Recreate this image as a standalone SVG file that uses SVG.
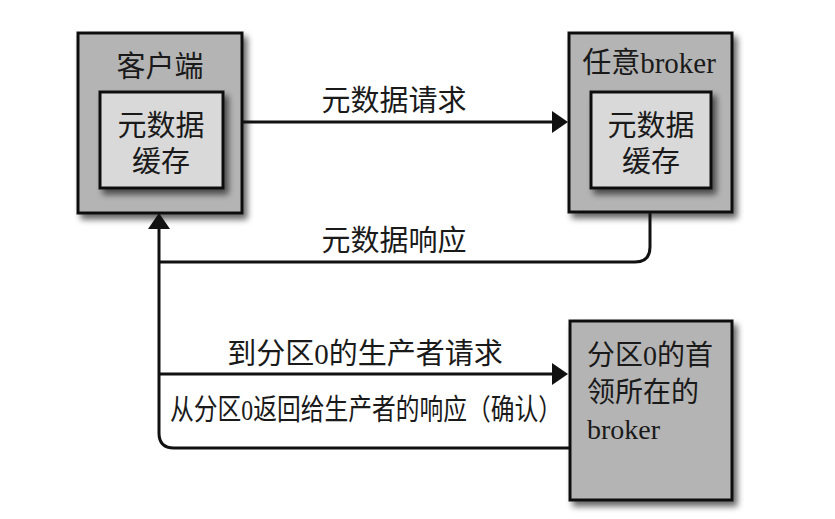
<svg xmlns="http://www.w3.org/2000/svg" width="835" height="519" viewBox="0 0 835 519">
<style>
.outer{fill:#b4b4b4;stroke:#111;stroke-width:3}
.inner{fill:#d9d9d9;stroke:#111;stroke-width:3}
.t{font-family:"Liberation Serif","Noto Sans CJK SC",serif;font-size:29px;fill:#1a1a1a}
.c{text-anchor:middle}
.ln{fill:none;stroke:#111;stroke-width:3}
</style>
<defs>
<filter id="sh" x="-10%" y="-10%" width="130%" height="130%">
<feGaussianBlur in="SourceAlpha" stdDeviation="3"/>
<feOffset dx="4" dy="5" result="b"/>
<feComponentTransfer><feFuncA type="linear" slope="0.6"/></feComponentTransfer>
<feMerge><feMergeNode/><feMergeNode in="SourceGraphic"/></feMerge>
</filter>
<marker id="ah" markerUnits="userSpaceOnUse" markerWidth="16" markerHeight="22" refX="8" refY="11" orient="auto">
<path d="M0,0 L16,11 L0,22 Z" fill="#111"/>
</marker>
</defs>
<rect width="835" height="519" fill="#fff"/>

<g id="client">
<rect class="outer" x="78" y="33" width="164" height="180" filter="url(#sh)"/>
<rect class="inner" x="100" y="92" width="123" height="96" filter="url(#sh)"/>
<text class="t c" x="160" y="77">客户端</text>
<text class="t c"><tspan x="161" y="136">元数据</tspan><tspan x="161" y="172">缓存</tspan></text>
</g>

<g id="any-broker">
<rect class="outer" x="569" y="33" width="163" height="179" filter="url(#sh)"/>
<rect class="inner" x="591" y="92" width="120" height="96" filter="url(#sh)"/>
<text class="t c" x="649" y="73">任意broker</text>
<text class="t c"><tspan x="651" y="136">元数据</tspan><tspan x="651" y="172">缓存</tspan></text>
</g>

<g id="leader-broker">
<rect class="outer" x="570" y="321" width="162" height="179" filter="url(#sh)"/>
<text class="t" style="font-size:28px"><tspan x="587" y="365">分区0的首</tspan><tspan x="587" y="402">领所在的</tspan><tspan x="587" y="439">broker</tspan></text>
</g>

<g id="connectors">
<path class="ln" d="M242,122 L560,122" marker-end="url(#ah)"/>
<path class="ln" d="M650,212 L650,247 Q650,262 635,262 L159,262"/>
<path class="ln" d="M569,448 L174,448 Q159,448 159,433 L159,221" marker-end="url(#ah)"/>
<path class="ln" d="M159,374 L560,374" marker-end="url(#ah)"/>
</g>

<g id="labels">
<text class="t c" x="394" y="111">元数据请求</text>
<text class="t c" x="394" y="251">元数据响应</text>
<text class="t c" x="365" y="364">到分区0的生产者请求</text>
<text class="t" x="170" y="420" textLength="392" lengthAdjust="spacingAndGlyphs">从分区0返回给生产者的响应（确认）</text>
</g>
</svg>
